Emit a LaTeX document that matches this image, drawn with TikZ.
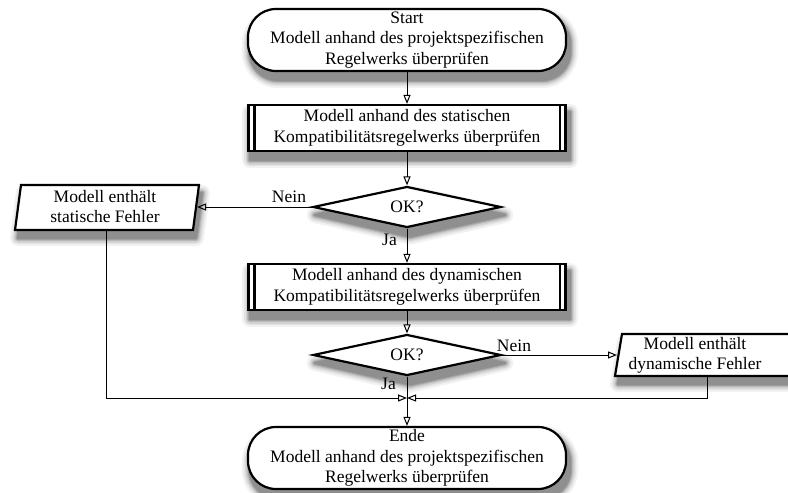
\documentclass[tikz,border=0pt]{standalone}
\usepackage{fontspec}
\setmainfont{Liberation Serif}
\usetikzlibrary{arrows.meta,shapes.geometric,backgrounds}

% soft shadow: grey rings of decreasing width and increasing darkness
\newcommand\softshade[1]{%
  \foreach \w/\c in {16/5,12/11,9/18,6/27,4/36,2/44}{%
    \filldraw[draw=black!\c, fill=black!\c, line width=\w pt, line join=round] #1;}}

\begin{document}
\begin{tikzpicture}[x=1pt,y=-1pt,
  every node/.style={font=\fontsize{17.5}{20.5}\selectfont, align=center},
  outline/.style={draw, line width=2.2pt, fill=white},
  termbox/.style={outline, rounded corners=28pt, minimum width=318pt,
      minimum height=62pt, inner sep=2pt},
  procbox/.style={outline, minimum width=317pt, minimum height=46pt, inner sep=2pt},
  decbox/.style={outline, diamond, aspect=4.4, inner sep=0pt,
      minimum width=188pt, minimum height=41pt},
  iobox/.style={outline, line join=miter},
  conn/.style={line width=1pt, -{Triangle[open, length=9pt, width=7pt]}},
  lbl/.style={inner sep=0pt},
  shadowoff/.style={shift={(3,8)}},
]
\path[use as bounding box] (0,0) rectangle (788,493);

% terminals, processes and decisions
\node[termbox] (start) at (407,40)
  {Start\\Modell anhand des projektspezifischen\\Regelwerks überprüfen};
\node[procbox] (b1) at (407,128)
  {Modell anhand des statischen\\Kompatibilitätsregelwerks überprüfen};
\node[decbox] (d1) at (407,207) {OK?};
\node[procbox] (b2) at (407,287)
  {Modell anhand des dynamischen\\Kompatibilitätsregelwerks überprüfen};
\node[decbox] (d2) at (407,355) {OK?};
\node[termbox] (ende) at (407,458)
  {Ende\\Modell anhand des projektspezifischen\\Regelwerks überprüfen};

% side bars of the predefined-process boxes
\foreach \b in {b1,b2} {
  \draw[line width=2.2pt] ([xshift=7pt]\b.north west) -- ([xshift=7pt]\b.south west);
  \draw[line width=2.2pt] ([xshift=-7pt]\b.north east) -- ([xshift=-7pt]\b.south east);
}

% data (parallelogram) boxes
\coordinate (p1tl) at (21,185);
\coordinate (p1tr) at (199,185);
\coordinate (p1br) at (193,230);
\coordinate (p1bl) at (15,230);
\draw[iobox] (p1tl) -- (p1tr) -- (p1br) -- (p1bl) -- cycle;
\node (p1) at (105,206.5) {Modell enthält\\statische Fehler};
\coordinate (p1in) at (197,207);
\coordinate (p1out) at (106,231);

\coordinate (p2tl) at (622,334);
\coordinate (p2tr) at (798,334);
\coordinate (p2br) at (791,376);
\coordinate (p2bl) at (615,376);
\draw[iobox] (p2tl) -- (p2tr) -- (p2br) -- (p2bl) -- cycle;
\node (p2) at (695,355.5) {Modell enthält\\dynamische Fehler};
\coordinate (p2in) at (617,355);
\coordinate (p2out) at (707,377);

% merge point above the end terminal
\coordinate (m) at (407,398);

% connectors
\draw[conn] (start.south) -- (b1.north);
\draw[conn] (b1.south) -- (d1.north);
\draw[conn] (d1.west) -- (p1in);
\draw[conn] (d1.south) -- (b2.north);
\draw[conn] (b2.south) -- (d2.north);
\draw[conn] (d2.east) -- (p2in);
\draw[conn] (d2.south) -- (ende.north);
\draw[conn] (p1out) |- (m);
\draw[conn] (p2out) |- (m);

% branch labels
\node[lbl] (n1) at (289,197) {Nein};
\node[lbl, anchor=east] (j1) at (397,240) {Ja};
\node[lbl] (n2) at (514,346) {Nein};
\node[lbl, anchor=east] (j2) at (396,384) {Ja};

% white page and soft shadows behind every shape
\begin{scope}[on background layer]
  \fill[white] (0,0) rectangle (788,493);
  \foreach \t in {start,ende}{
    \softshade{[rounded corners=28pt] ([shadowoff]\t.north west) rectangle ([shadowoff]\t.south east)}}
  \foreach \b in {b1,b2}{
    \softshade{([shadowoff]\b.north west) rectangle ([shadowoff]\b.south east)}}
  \foreach \d in {d1,d2}{
    \softshade{([shadowoff]\d.north) -- ([shadowoff]\d.east) -- ([shadowoff]\d.south)
      -- ([shadowoff]\d.west) -- cycle}}
  \softshade{([shadowoff]p1tl) -- ([shadowoff]p1tr) -- ([shadowoff]p1br) -- ([shadowoff]p1bl) -- cycle}
  \softshade{([shadowoff]p2tl) -- ([shadowoff]p2tr) -- ([shadowoff]p2br) -- ([shadowoff]p2bl) -- cycle}
\end{scope}
\end{tikzpicture}
\end{document}
